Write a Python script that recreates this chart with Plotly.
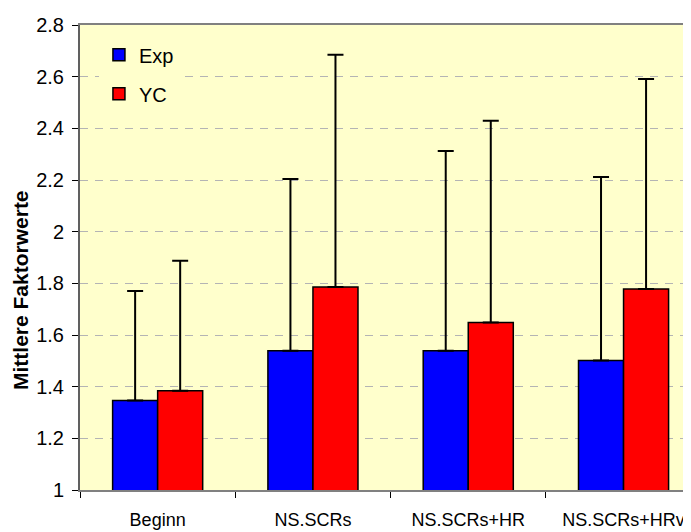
import plotly.graph_objects as go

# categories and series
categories = ["Beginn", "NS.SCRs", "NS.SCRs+HR", "NS.SCRs+HRv"]
exp_values = [1.346, 1.539, 1.539, 1.501]
exp_err = [0.424, 0.665, 0.773, 0.711]
yc_values = [1.384, 1.786, 1.648, 1.778]
yc_err = [0.503, 0.899, 0.781, 0.813]
y_ticks = [1, 1.2, 1.4, 1.6, 1.8, 2, 2.2, 2.4, 2.6, 2.8]

FONT = "Arial, Liberation Sans, sans-serif"


def _bar(name, values, err, color, group):
    return go.Bar(
        name=name,
        x=categories,
        y=values,
        legendgroup=group,
        marker=dict(color=color, line=dict(color="black", width=1.5)),
        error_y=dict(
            type="data",
            symmetric=False,
            array=err,
            arrayminus=[0] * len(err),
            color="black",
            thickness=2,
            width=8,
        ),
    )


fig = go.Figure()
fig.add_trace(_bar("Exp", exp_values, exp_err, "#0000ff", "a"))
fig.add_trace(_bar("YC", yc_values, yc_err, "#ff0000", "b"))

# the page body adds 8px around the figure, so sizes are shrunk to fit.
# plot area runs past the right edge of the window, like the reference
cat_px = 155.3
plot_w = 683 - 72
plot_h = 465
fig.update_layout(
    width=683,
    height=524,
    margin=dict(l=72, r=0, t=17, b=42),
    paper_bgcolor="white",
    plot_bgcolor="#ffffcc",
    barmode="group",
    bargap=0.42,
    bargroupgap=0,
    font=dict(family=FONT, size=20, color="black"),
    showlegend=True,
    legend=dict(
        x=0.031, y=0.978, xanchor="left", yanchor="top",
        bgcolor="#ffffcc", borderwidth=0,
        tracegroupgap=10,
        font=dict(size=20),
    ),
)
fig.update_xaxes(
    range=[-0.5, -0.5 + plot_w / cat_px],
    tickson="boundaries",
    ticks="outside", ticklen=6, tickcolor="black",
    tickfont=dict(size=18),
    showline=True, linecolor="#808080", linewidth=2, mirror=True,
    showgrid=False,
    ticklabelstandoff=12,
    automargin=False,
)
fig.update_yaxes(
    range=[1, 2.8],
    tickvals=y_ticks,
    ticks="outside", ticklen=6, tickcolor="black",
    tickfont=dict(size=20),
    showline=True, linecolor="#606060", linewidth=2,
    showgrid=True, gridcolor="#b4b4b4", gridwidth=1, griddash="8px,7px",
    zeroline=False,
    ticklabelstandoff=4,
    automargin=False,
)

# axis title sits a little below the plot centre in the reference
fig.add_annotation(
    text="<b>Mittlere Faktorwerte</b>",
    xref="paper", yref="paper",
    x=(12 - 72) / plot_w, y=1 - (282 - 17) / plot_h,
    xanchor="center", yanchor="middle",
    textangle=-90, showarrow=False,
    font=dict(size=21),
)

fig.write_html("out.html")
